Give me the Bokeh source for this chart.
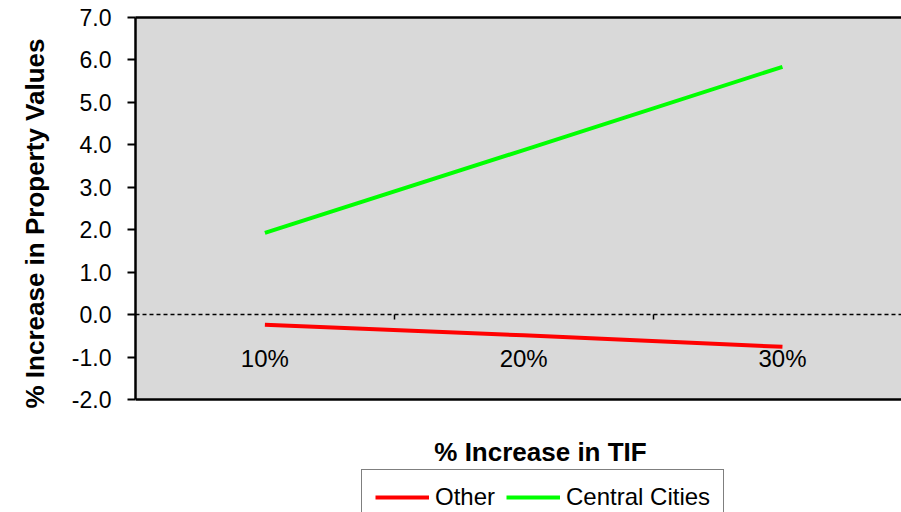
from bokeh.plotting import figure
from bokeh.models import (Range1d, LinearAxis, FixedTicker, NumeralTickFormatter,
                          Legend, LegendItem, BoxAnnotation, Title, Label)
from bokeh.embed import file_html
from bokeh.resources import INLINE

# ---- data ----
categories = ["10%", "20%", "30%"]
other = [-0.23, -0.48, -0.75]
central_cities = [1.93, 3.88, 5.84]
y_ticks = [-2, -1, 0, 1, 2, 3, 4, 5, 6, 7]
x_title = "% Increase in TIF"
y_title = "% Increase in Property Values"

xs = list(range(len(categories)))
boundaries = [i + 0.5 for i in xs[:-1]]
y_lo, y_hi = y_ticks[0], y_ticks[-1]

FONT = "Liberation Sans"

# The frame runs to the bottom of the picture so that the legend (drawn inside
# the frame) can sit below the grey plot area; the grey area is a box from
# y_lo to y_hi.
p = figure(width=901, height=512, output_backend="svg", toolbar_location=None,
           x_range=Range1d(-0.5, 2.46), y_range=Range1d(-4.65, y_hi),
           x_axis_type=None, y_axis_type=None,
           min_border_left=135, min_border_right=0, min_border_top=17,
           min_border_bottom=0)
p.background_fill_color = "white"
p.border_fill_color = "white"
p.outline_line_color = None

p.add_layout(BoxAnnotation(bottom=y_lo, top=y_hi, fill_color="#D9D9D9",
                           fill_alpha=1, line_color=None, level="underlay"))

# y axis (ticks + labels)
yax = LinearAxis(ticker=FixedTicker(ticks=y_ticks), bounds=(y_lo, y_hi),
                 formatter=NumeralTickFormatter(format="0.0"),
                 major_tick_out=8, major_tick_in=0,
                 major_tick_line_width=2, major_tick_line_color="black",
                 axis_line_width=2.5, axis_line_color="black",
                 minor_tick_line_color=None,
                 major_label_standoff=16,
                 major_label_text_font=FONT, major_label_text_font_size="23px",
                 major_label_text_color="black")
p.add_layout(yax, "left")

# y title
p.add_layout(Title(text=y_title, align="left", offset=104, vertical_align="middle",
                   standoff=35, text_font=FONT, text_font_size="26px",
                   text_font_style="bold", text_color="black"), "left")

# top border line
top = LinearAxis(ticker=FixedTicker(ticks=[]), major_tick_out=0, major_tick_in=0,
                 minor_tick_line_color=None,
                 axis_line_width=2.5, axis_line_color="black")
p.add_layout(top, "above")

# bottom border line at y_lo
bottom = LinearAxis(ticker=FixedTicker(ticks=[]), fixed_location=y_lo,
                    major_tick_out=0, major_tick_in=0,
                    minor_tick_line_color=None,
                    axis_line_width=2.5, axis_line_color="black")
p.add_layout(bottom, "below")

# x title (screen units from the frame's bottom-left corner)
p.add_layout(Label(text=x_title, x=405, y=61, x_units="screen", y_units="screen",
                   text_align="center", text_baseline="middle",
                   text_font=FONT, text_font_size="26px", text_font_style="bold",
                   text_color="black"))

# category axis crossing at zero (dashed line, labels, ticks between categories)
cat_axis = LinearAxis(ticker=FixedTicker(ticks=xs, minor_ticks=boundaries),
                      fixed_location=0,
                      major_label_overrides={i: c for i, c in enumerate(categories)},
                      major_tick_out=0, major_tick_in=0, major_tick_line_color=None,
                      minor_tick_out=5, minor_tick_in=0,
                      minor_tick_line_color="black", minor_tick_line_width=1.5,
                      major_label_standoff=25,
                      major_label_text_font=FONT, major_label_text_font_size="24px",
                      major_label_text_color="black",
                      axis_line_color="black", axis_line_width=1.3,
                      axis_line_dash="4 3")
p.add_layout(cat_axis, "below")

r_other = p.line(xs, other, line_color="#FF0000", line_width=4)
r_cc = p.line(xs, central_cities, line_color="#00FF00", line_width=4)

legend = Legend(items=[LegendItem(label="Other", renderers=[r_other]),
                       LegendItem(label="Central Cities", renderers=[r_cc])],
                orientation="horizontal", location=(226, -13),
                glyph_width=54, glyph_height=20, label_standoff=6, spacing=11,
                padding=13, margin=0,
                label_text_font=FONT, label_text_font_size="24px",
                label_text_color="black",
                border_line_color="black", border_line_width=1.5,
                background_fill_color="white", background_fill_alpha=1)
p.add_layout(legend, "center")

open("out.html", "w").write(file_html(p, INLINE))
